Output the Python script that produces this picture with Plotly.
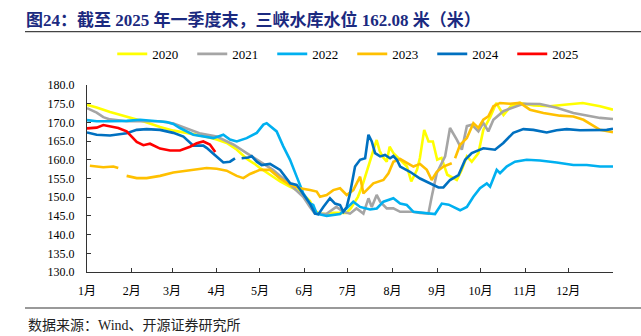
import plotly.graph_objects as go

# ---- data (day of year, water level in metres) ----
month_ticks = [0, 31, 59, 90, 120, 151, 181, 212, 243, 273, 304, 334, 365]
month_labels = ["1月", "2月", "3月", "4月", "5月", "6月", "7月", "8月", "9月", "10月", "11月", "12月", ""]

d2020 = [0, 6.7, 16, 27.5, 40, 50.7, 60, 69, 80, 90, 97, 104, 111, 116, 120, 127, 134, 141, 148, 154.7,
         158, 161, 166, 171, 176, 180, 183, 185, 188, 191, 194, 197, 200, 201, 203, 205, 208, 210, 212.6,
         217, 222, 225, 229, 231, 234, 237, 240, 243, 246, 250, 253, 256.6, 260, 263.6, 267, 271.6, 275,
         280, 284, 289, 294, 300, 310, 321, 333, 344, 356, 365]
v2020 = [174.7, 174.0, 172.8, 171.6, 170.2, 168.8, 167.8, 167.2, 166.4, 165.4, 164.5, 162.7, 160.2, 159.0,
         157.8, 156.0, 154.2, 152.8, 151.5, 149.0, 146.5, 145.6, 145.5, 145.8, 145.8, 145.8, 147.0, 148.3,
         150.1, 153.0, 156.5, 160.0, 164.0, 165.3, 162.5, 160.9, 159.5, 163.5, 161.8, 160.2, 158.2, 154.2,
         157.3, 160.5, 168.0, 164.9, 164.9, 160.0, 160.5, 156.0, 155.3, 154.6, 157.3, 160.9, 159.5, 161.8,
         168.0, 171.6, 175.2, 172.0, 174.3, 175.2, 174.5, 174.3, 174.8, 175.2, 174.3, 173.4]

d2021 = [0, 6.7, 11.3, 16, 27.5, 40, 50.7, 60, 69, 78, 90, 101.5, 110.8, 120, 129, 138.6, 145, 150, 154.7,
         158.2, 166, 173, 178, 182.5, 187, 191.8, 195.3, 197.6, 201, 203.4, 208, 212.6, 217.3, 226, 231,
         236.9, 239.2, 242.7, 248.5, 251.9, 256.6, 260.1, 263.6, 267, 271.6, 275, 278.5, 282, 288.9, 295.8,
         302.8, 314.3, 325.9, 337.5, 349.1, 356, 365]
v2021 = [173.8, 172.6, 171.4, 170.8, 170.3, 170.3, 170.3, 169.7, 168.4, 167.1, 166.2, 164.1, 161.8, 159.5,
         157.3, 154.2, 152.0, 150.1, 147.4, 145.6, 145.5, 147.4, 146.1, 145.6, 147.0, 145.6, 149.7, 147.4,
         150.6, 148.8, 147.0, 147.0, 146.1, 146.1, 145.8, 145.6, 150.1, 156.4, 160.9, 168.5, 165.4, 162.7,
         169.0, 169.4, 167.6, 169.9, 167.6, 170.7, 173.0, 174.1, 175.0, 174.9, 173.9, 172.5, 171.6, 171.2,
         170.9]

d2022 = [0, 6.7, 16, 27.5, 36.8, 46, 55.3, 59.9, 64.5, 73.8, 80.7, 87.7, 94.6, 99.2, 103.9, 110.8, 117.8,
         122.4, 124.7, 127, 131.6, 136.2, 140.9, 145.5, 150.1, 154.7, 157, 159.4, 166.3, 175.6, 180.2,
         184.8, 189.5, 196.4, 201.1, 205.7, 212.6, 217.3, 221.9, 226.5, 235.8, 241.5, 246.2, 251, 258.9,
         263.6, 268.1, 272.7, 277.4, 279.7, 284.3, 286.6, 291.2, 297, 305.1, 314.3, 325.9, 337.5, 346.8,
         356, 365]
v2022 = [170.6, 170.3, 170.3, 170.4, 170.7, 170.4, 170.1, 169.6, 168.5, 166.7, 166.2, 165.8, 166.7, 165.4,
         164.9, 165.8, 167.2, 169.4, 169.8, 169.0, 167.6, 163.6, 160.0, 155.5, 151.0, 148.3, 147.9, 145.6,
         145.0, 145.5, 147.0, 148.8, 147.4, 146.7, 147.0, 148.8, 149.7, 148.3, 147.9, 146.1, 145.8, 145.5,
         148.3, 148.0, 146.5, 147.4, 150.1, 152.4, 153.7, 152.8, 157.3, 156.4, 158.2, 159.5, 160.0, 159.8,
         159.3, 158.6, 158.6, 158.2, 158.2]

d2023 = [2, 11.3, 18.3, 21.7, 24, 27.5, 34.5, 41.4, 50.7, 59.9, 69.2, 78.4, 83, 90, 96.9, 103.9, 108.5,
         113.1, 120, 127, 133.9, 140.9, 147.8, 154.7, 159.4, 161.7, 166.3, 170.9, 175.6, 180.2, 184.8,
         189.5, 191.8, 198.7, 205.7, 209.2, 212.6, 217.3, 221.9, 226.5, 231.1, 235.8, 239.2, 242.7, 247.3,
         253.1, 254.3, 255.4, 258.9, 263.6, 268.1, 271.6, 275, 278.5, 282, 286.6, 293.5, 300.5, 307.4,
         316.7, 328.2, 337.5, 344.5, 356, 365]
v2023 = [158.4, 158.0, 158.2, 157.8, None, 155.7, 155.1, 155.1, 155.7, 156.6, 157.1, 157.5, 157.8, 157.6,
         157.1, 155.7, 155.1, 156.2, 157.3, 157.3, 155.0, 153.3, 152.4, 151.9, 151.5, 150.1, 150.6, 151.9,
         152.4, 150.6, 151.9, 155.5, 151.0, 153.7, 154.6, 156.4, 159.5, 160.2, 159.1, 158.2, 158.9, 157.3,
         154.6, 156.8, 158.2, 159.1, None, 160.4, 164.0, 165.8, 169.8, 168.5, 170.7, 171.6, 174.3, 175.2,
         175.0, 175.2, 173.4, 172.5, 171.8, 171.6, 170.7, 168.0, 167.4]

d2024 = [0, 6.7, 16, 27.5, 34.5, 41.4, 50.7, 59.9, 66.9, 73.8, 80.7, 83, 87.7, 90, 94.6, 99.2, 102.7, 105,
         107.3, 112, 114.3, 117.8, 121.2, 127, 134, 141, 145.5, 150, 154.7, 158.2, 160.5, 164, 168.6, 172.1,
         175.6, 177.9, 180.2, 182.5, 186, 189.5, 193, 195.3, 197.6, 199.9, 203.4, 206.8, 210.3, 212.6, 215,
         217.3, 224.1, 231.1, 238.1, 243.9, 247.3, 251.9, 257.8, 262.4, 267, 275, 283.1, 288.9, 295.8,
         302.8, 309.7, 319, 325.9, 332.9, 342.1, 351.4, 360.7, 365]
v2024 = [167.3, 166.7, 166.5, 167.1, 168.0, 168.2, 168.0, 167.2, 166.2, 163.8, 163.8, 163.2, 161.6, 160.9,
         159.3, 159.5, 160.4, None, 160.4, 160.6, 161.0, 159.5, 158.6, 158.9, 157.3, 153.7, 153.3, 151.0,
         148.3, 145.6, 145.4, 147.4, 149.7, 148.3, 147.9, 146.1, 147.4, 151.0, 158.2, 160.0, 160.4, 166.7,
         164.9, 161.8, 160.9, 161.3, 160.4, 161.0, 160.0, 158.2, 156.8, 155.0, 153.7, 152.6, 152.6, 154.6,
         155.9, 160.0, 161.8, 163.1, 162.7, 164.5, 167.2, 168.2, 168.0, 167.3, 167.9, 168.2, 167.9, 168.0,
         168.0, 168.3]

d2025 = [0, 6.7, 11.3, 16, 21.7, 27.5, 34.5, 39.1, 43.7, 50.7, 57.6, 64.5, 71.5, 76.1, 80.7, 85.3, 89]
v2025 = [168.4, 168.6, 169.3, 169.0, 168.5, 167.6, 164.8, 163.9, 164.3, 163.0, 162.5, 162.5, 163.5, 164.4,
         164.9, 164.1, 162.08]

series = [
    ("2020", d2020, v2020, "#FFFF00"),
    ("2021", d2021, v2021, "#A5A5A5"),
    ("2022", d2022, v2022, "#00B0F0"),
    ("2023", d2023, v2023, "#FFC000"),
    ("2024", d2024, v2024, "#0070C0"),
    ("2025", d2025, v2025, "#FF0000"),
]

SERIF = "Liberation Serif, Noto Sans CJK SC, serif"

fig = go.Figure()
for name, d, v, c in series:
    fig.add_trace(go.Scatter(x=d, y=v, name=name, mode="lines",
                             line=dict(color=c, width=2.6), connectgaps=False,
                             hoverinfo="skip"))

fig.update_layout(
    width=641, height=336,
    margin=dict(l=87, r=28, t=85, b=64),
    paper_bgcolor="white", plot_bgcolor="white",
    font=dict(family=SERIF, size=12, color="#000000"),
    showlegend=True,
    legend=dict(orientation="h", x=0.048, xanchor="left", y=1.166, yanchor="middle",
                font=dict(family=SERIF, size=13, color="#000000"),
                entrywidth=35, entrywidthmode="pixels", bgcolor="rgba(0,0,0,0)",
                itemclick=False, itemdoubleclick=False),
    title=dict(text="<b>图24：截至 2025 年一季度末，三峡水库水位 162.08 米（米）</b>",
               x=26 / 641, xanchor="left", xref="container",
               y=1 - 20 / 336, yanchor="middle", yref="container",
               font=dict(family=SERIF, size=17, color="#1B2A80")),
    xaxis=dict(range=[0, 365], tickvals=month_ticks, ticktext=month_labels,
               showgrid=False, zeroline=False, showline=True, linecolor="#333333", linewidth=1,
               ticks="inside", ticklen=4, tickcolor="#333333",
               tickfont=dict(family=SERIF, size=12, color="#000000"),
               ticklabelstandoff=8, fixedrange=True),
    yaxis=dict(range=[130, 180], dtick=5, tick0=130, tickformat=".1f",
               showgrid=False, zeroline=False, showline=True, linecolor="#333333", linewidth=1,
               ticks="inside", ticklen=4, tickcolor="#333333",
               tickfont=dict(family=SERIF, size=12, color="#000000"),
               ticklabelstandoff=9, fixedrange=True),
)

# header underline and footer separator
fig.add_shape(type="line", xref="paper", yref="paper",
              x0=(25 - 87) / 526, x1=(641 - 87) / 526,
              y0=1 + (85 - 31.7) / 187, y1=1 + (85 - 31.7) / 187,
              line=dict(color="#444444", width=1.3))
fig.add_shape(type="line", xref="paper", yref="paper",
              x0=(25 - 87) / 526, x1=(641 - 87) / 526,
              y0=-(308 - 272) / 187, y1=-(308 - 272) / 187,
              line=dict(color="#999999", width=2))

fig.add_annotation(text="数据来源：Wind、开源证券研究所", xref="paper", yref="paper",
                   x=(26 - 87) / 526, y=-(325 - 272) / 187, xanchor="left", yanchor="middle",
                   showarrow=False, font=dict(family=SERIF, size=14, color="#222222"))

fig.write_html("out.html")
